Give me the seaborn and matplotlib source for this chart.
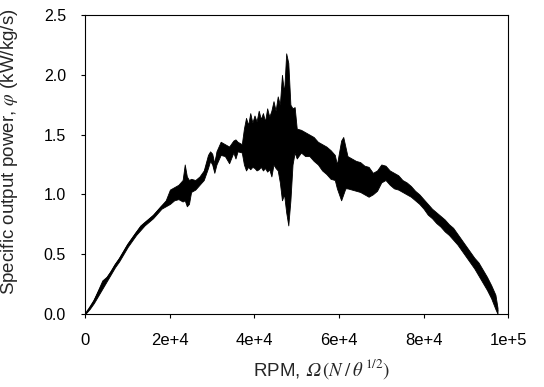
import numpy as np
import pandas as pd
import matplotlib
matplotlib.use("Agg")
import matplotlib.pyplot as plt
import seaborn as sns

# RPM positions and lower / upper envelope of the noisy trace (kW/kg/s)
rpm = [0, 1000, 2000, 3000, 4000, 5000, 6000, 7000, 8000, 9000, 10000,
       11000, 12000, 13000, 14000, 15000, 16000, 17000, 18000, 19000, 20000,
       21000, 22000, 23000, 23500, 24000, 24500, 25000, 26000, 27000, 28000,
       29000, 29500, 30000, 30500, 31000, 32000, 33000, 34000, 35000, 35500,
       36000, 37000, 37500, 38000, 38500, 39000, 39500, 40000, 40500, 41000,
       41500, 42000, 42500, 43000, 43500, 44000, 44500, 45000, 45500, 46000,
       46500, 47000, 47500, 48000, 48500, 49000, 49500, 50000, 51000, 52000,
       53000, 54000, 55000, 56000, 57000, 58000, 59000, 59500, 60000, 60500,
       61000, 61500, 62000, 63000, 64000, 65000, 66000, 67000, 68000, 69000,
       70000, 71000, 72000, 73000, 74000, 75000, 76000, 77000, 78000, 79000,
       80000, 81000, 82000, 83000, 84000, 85000, 86000, 87000, 88000, 89000,
       90000, 91000, 92000, 93000, 94000, 95000, 96000, 97000, 97500]
power_low = [0.00, 0.04, 0.09, 0.15, 0.21, 0.27, 0.33, 0.39, 0.44, 0.50, 0.56,
             0.61, 0.66, 0.70, 0.74, 0.77, 0.80, 0.84, 0.88, 0.90, 0.92,
             0.95, 0.96, 0.94, 0.95, 0.90, 0.92, 1.02, 1.04, 1.08, 1.12,
             1.22, 1.28, 1.25, 1.18, 1.25, 1.33, 1.32, 1.26, 1.35, 1.30,
             1.36, 1.35, 1.25, 1.20, 1.23, 1.21, 1.23, 1.22, 1.20, 1.21,
             1.23, 1.20, 1.22, 1.19, 1.21, 1.15, 1.25, 1.22, 1.20, 1.10,
             0.95, 1.00, 0.85, 0.74, 0.95, 1.25, 1.35, 1.30, 1.35, 1.32,
             1.32, 1.28, 1.25, 1.20, 1.17, 1.13, 1.12, 1.05, 1.00, 0.95,
             1.00, 1.05, 1.05, 1.04, 1.03, 1.02, 1.00, 0.98, 1.00, 1.03,
             1.10, 1.12, 1.08, 1.05, 1.04, 1.02, 1.00, 0.98, 0.95, 0.92,
             0.88, 0.83, 0.80, 0.76, 0.73, 0.69, 0.66, 0.62, 0.58, 0.53,
             0.48, 0.43, 0.38, 0.32, 0.26, 0.20, 0.13, 0.04, 0.00]
power_high = [0.00, 0.06, 0.12, 0.20, 0.28, 0.31, 0.36, 0.42, 0.47, 0.53, 0.59,
              0.64, 0.69, 0.74, 0.77, 0.80, 0.83, 0.87, 0.91, 0.95, 1.04,
              1.06, 1.08, 1.12, 1.25, 1.15, 1.12, 1.13, 1.12, 1.15, 1.20,
              1.33, 1.36, 1.34, 1.26, 1.36, 1.44, 1.42, 1.40, 1.45, 1.46,
              1.44, 1.42, 1.55, 1.64, 1.58, 1.68, 1.60, 1.66, 1.61, 1.70,
              1.63, 1.68, 1.61, 1.72, 1.65, 1.70, 1.78, 1.70, 1.82, 1.75,
              2.00, 1.85, 2.18, 2.10, 1.75, 1.72, 1.73, 1.55, 1.54, 1.52,
              1.50, 1.48, 1.44, 1.42, 1.40, 1.37, 1.33, 1.25, 1.35, 1.45,
              1.48, 1.40, 1.32, 1.30, 1.28, 1.27, 1.24, 1.23, 1.18, 1.20,
              1.25, 1.24, 1.20, 1.18, 1.16, 1.12, 1.10, 1.07, 1.03, 1.00,
              0.96, 0.92, 0.88, 0.85, 0.82, 0.79, 0.75, 0.72, 0.67, 0.62,
              0.57, 0.52, 0.47, 0.43, 0.37, 0.31, 0.24, 0.16, 0.05]

x_ticks = [0, 20000, 40000, 60000, 80000, 100000]
x_tick_labels = ["0", "2e+4", "4e+4", "6e+4", "8e+4", "1e+5"]
y_ticks = [0.0, 0.5, 1.0, 1.5, 2.0, 2.5]
y_tick_labels = ["0.0", "0.5", "1.0", "1.5", "2.0", "2.5"]

df = pd.DataFrame({
    "rpm": rpm + rpm,
    "power": power_low + power_high,
})

sns.set_style("ticks")
plt.rcParams["font.family"] = ["Liberation Sans", "DejaVu Sans"]
plt.rcParams["mathtext.fontset"] = "stix"

fig = plt.figure(figsize=(5.44, 3.87), dpi=100)
ax = fig.add_axes([0.157, 0.189, 0.777, 0.772])

sns.lineplot(data=df, x="rpm", y="power", estimator="mean",
             errorbar=("pi", 100), color="black", linewidth=1.1,
             err_kws={"alpha": 1.0, "linewidth": 0.6, "edgecolor": "black"},
             ax=ax)

ax.set_xlim(0, 100000)
ax.set_ylim(0, 2.5)
ax.set_xticks(x_ticks)
ax.set_xticklabels(x_tick_labels)
ax.set_yticks(y_ticks)
ax.set_yticklabels(y_tick_labels)
ax.tick_params(length=3, width=0.8, colors="black", pad=11)
ax.tick_params(axis="x", labelsize=12)
ax.tick_params(axis="y", labelsize=11.5)

for s in ax.spines.values():
    s.set_visible(True)
    s.set_linewidth(0.8)
    s.set_color("black")

ax.set_xlabel("RPM, $\U0001D6FA\\,(N\\;/\\,\\theta^{\\,1/2})$", fontsize=13.5)
ax.set_ylabel(r"Specific output power, $\varphi$ (kW/kg/s)", fontsize=13.5)
ax.xaxis.set_label_coords(0.56, -0.144)
ax.yaxis.set_label_coords(-0.155, 0.542)

fig.savefig("out.png", dpi=100)
